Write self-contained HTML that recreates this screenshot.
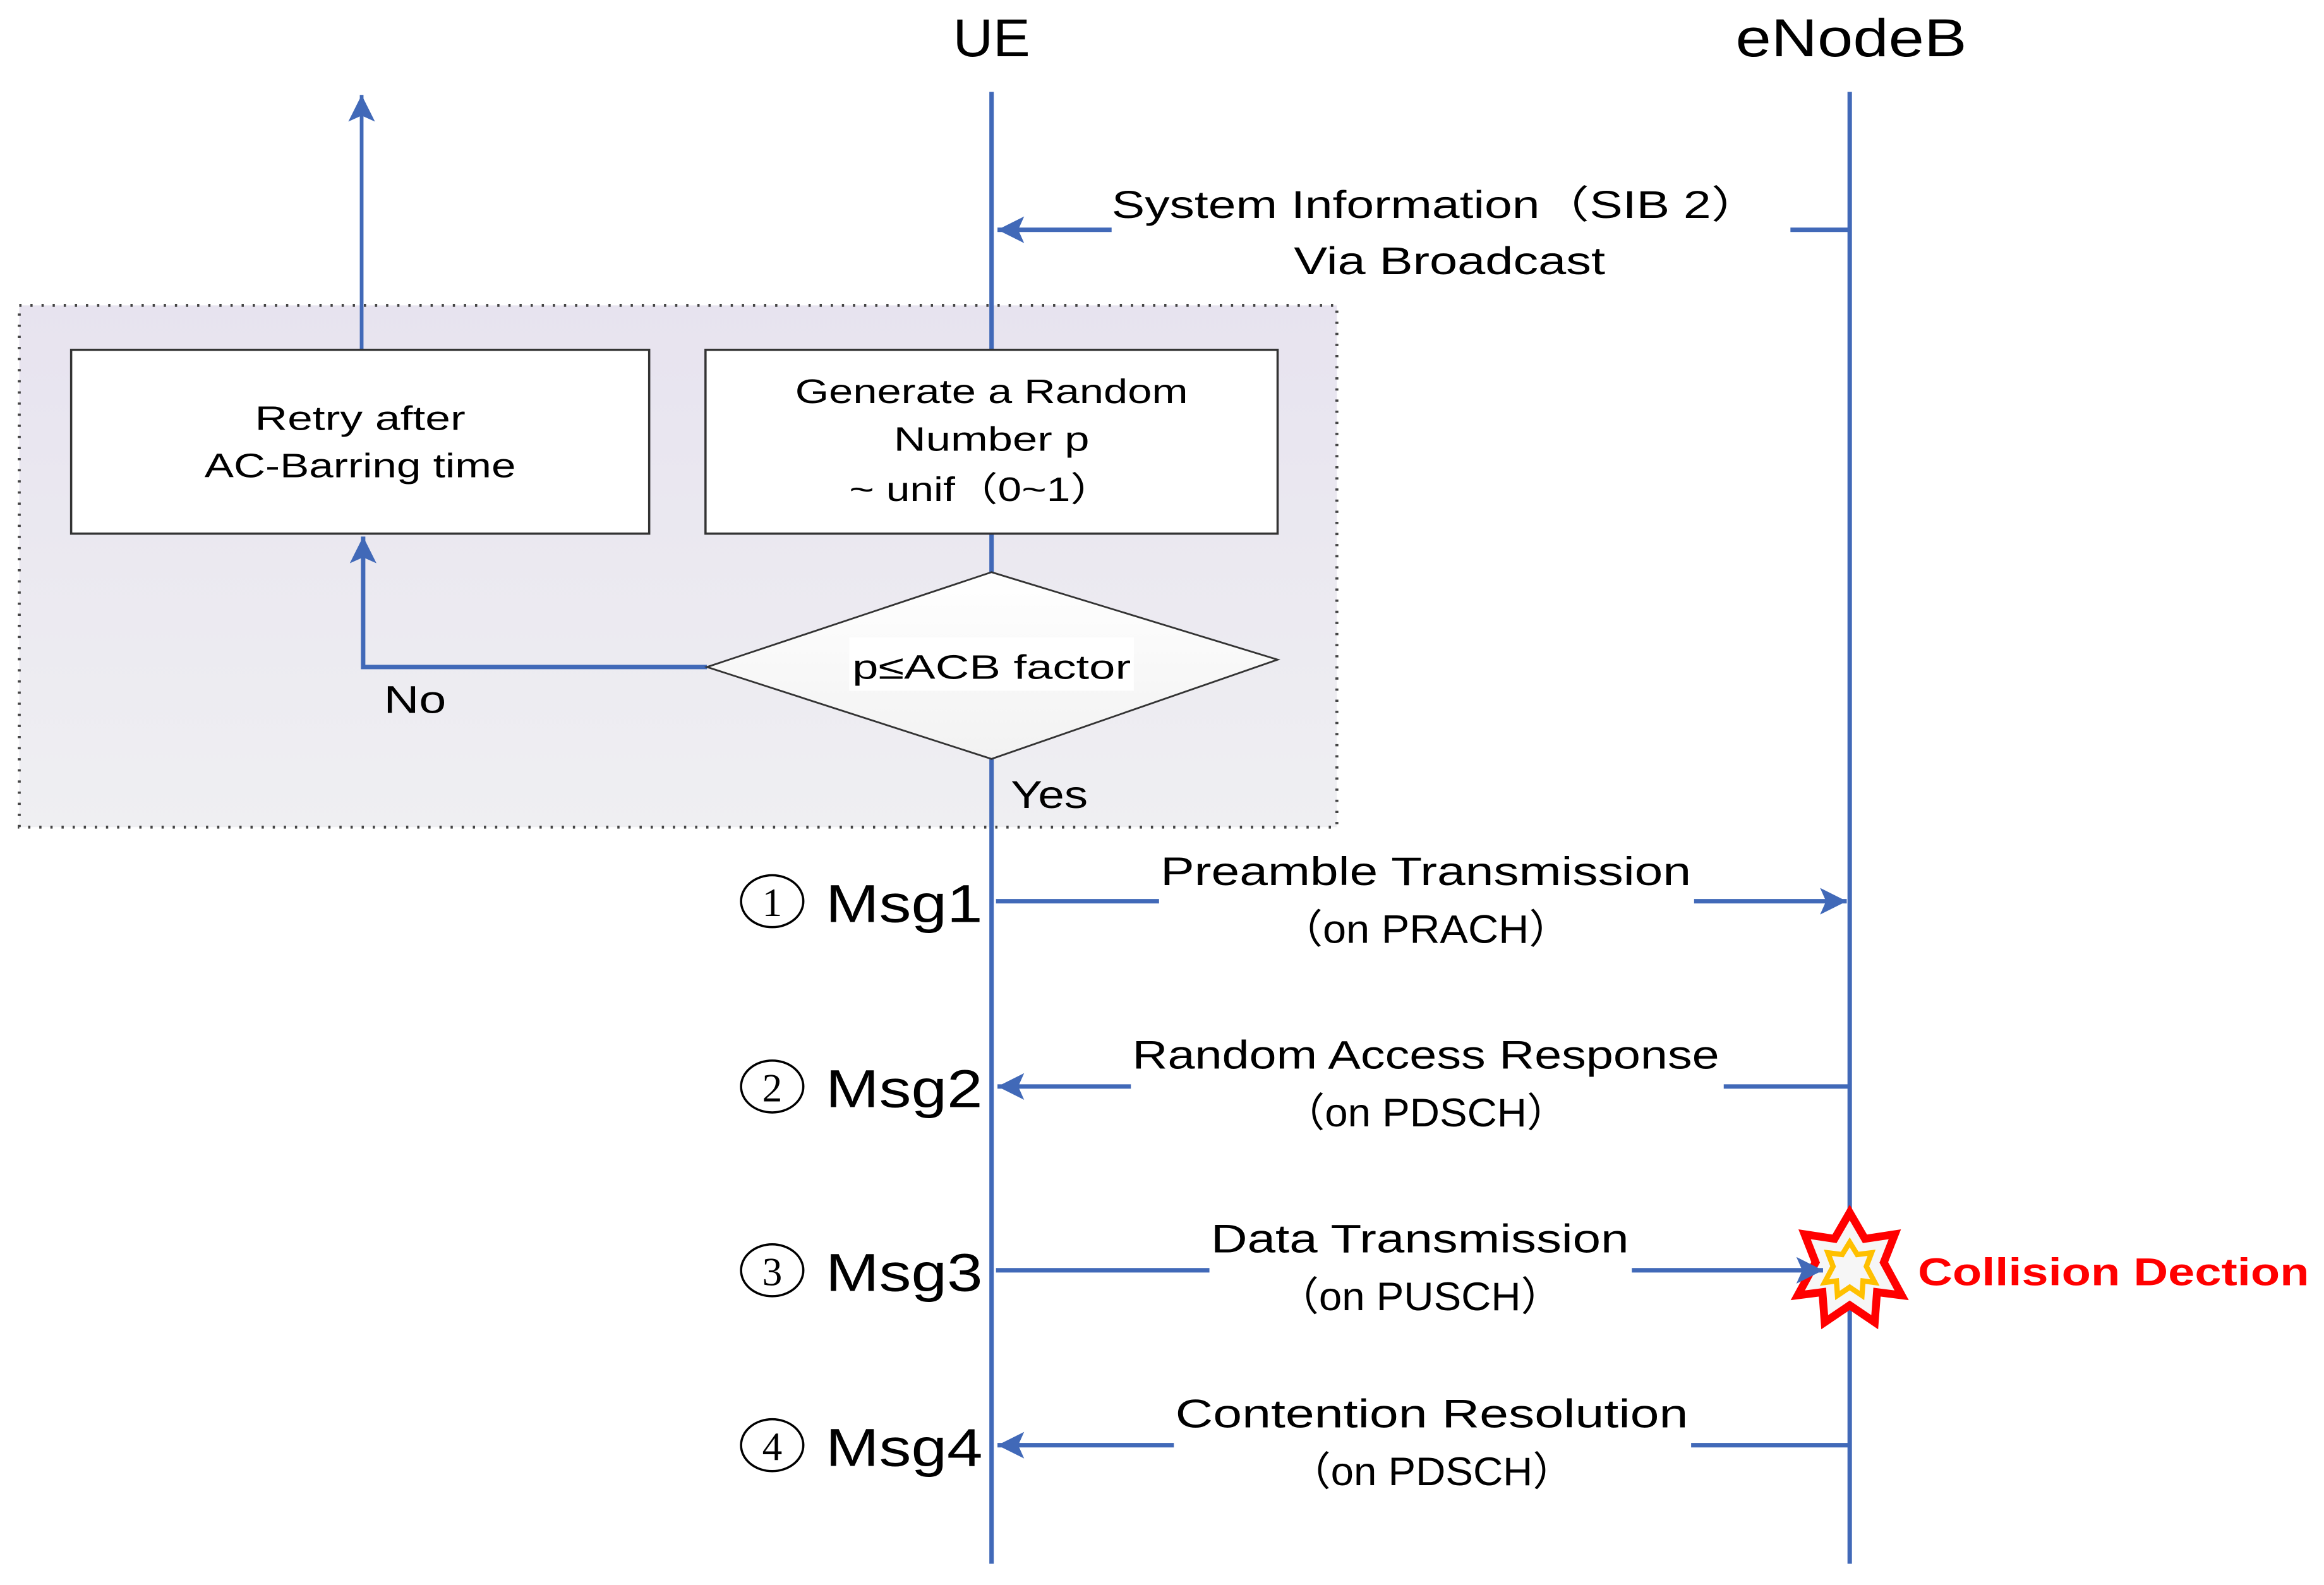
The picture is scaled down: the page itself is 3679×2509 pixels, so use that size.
<!DOCTYPE html>
<html><head><meta charset="utf-8"><style>html,body{margin:0;padding:0;background:#fff}svg{display:block}</style></head>
<body>
<svg width="3679" height="2509" viewBox="0 0 1568 1069.3" xmlns="http://www.w3.org/2000/svg" font-family="'Liberation Sans','Noto Sans CJK SC',sans-serif">
<defs>
<linearGradient id="bg" x1="0" y1="0" x2="0" y2="1"><stop offset="0" stop-color="#e7e3ef"/><stop offset="1" stop-color="#efeff2"/></linearGradient>
<linearGradient id="dg" x1="0" y1="0" x2="0" y2="1"><stop offset="0" stop-color="#ffffff"/><stop offset="1" stop-color="#f2f2f2"/></linearGradient>
<marker id="ar2" markerWidth="20" markerHeight="20" refX="18" refY="10" orient="auto" markerUnits="userSpaceOnUse"><path d="M0,1 L18,10 L0,19 L4,10 Z" fill="#4169b8"/></marker>
</defs>
<rect x="13" y="206" width="889" height="352" fill="url(#bg)" stroke="#444" stroke-width="2" stroke-dasharray="1.5 6"/>
<g stroke="#4169b8" stroke-width="3" fill="none">
<line x1="669" y1="62" x2="669" y2="1055"/>
<line x1="1248" y1="62" x2="1248" y2="1055"/>
<line x1="1248" y1="155" x2="1208" y2="155"/>
<line x1="750" y1="155" x2="673" y2="155" marker-end="url(#ar2)"/>
<line x1="244" y1="236" x2="244" y2="64" stroke-width="2.5" marker-end="url(#ar2)"/>
<polyline points="477,450 245,450 245,362" marker-end="url(#ar2)"/>
<line x1="672" y1="608" x2="782" y2="608"/>
<line x1="1143" y1="608" x2="1246" y2="608" marker-end="url(#ar2)"/>
<line x1="1248" y1="733" x2="1163" y2="733"/>
<line x1="763" y1="733" x2="673" y2="733" marker-end="url(#ar2)"/>
<line x1="672" y1="857" x2="816" y2="857"/>
<line x1="1248" y1="975" x2="1141" y2="975"/>
<line x1="792" y1="975" x2="673" y2="975" marker-end="url(#ar2)"/>
</g>
<rect x="48" y="236" width="390" height="124" fill="#fff" stroke="#333" stroke-width="1.5"/>
<rect x="476" y="236" width="386" height="124" fill="#fff" stroke="#333" stroke-width="1.5"/>
<polygon points="669,386 862,445 669,512 477,450" fill="url(#dg)" stroke="#333" stroke-width="1.2"/>
<rect x="573" y="430" width="192" height="36" fill="#fff"/>
<g transform="translate(1248,857) scale(1.18)">
<polygon points="0,-33 8.7,-18 25.8,-20.6 19.5,-4.5 29.7,14.3 15.6,12.5 14.3,29.7 0,20 -14.3,29.7 -15.6,12.5 -29.7,14.3 -19.5,-4.5 -25.8,-20.6 -8.7,-18" fill="#f6f6f6" stroke="#ff0000" stroke-width="4.5"/>
<polygon points="0,-16 4.3,-9 12.5,-10 9.5,-2.2 14.4,7 7.6,6.1 7,14.4 0,9.7 -7,14.4 -7.6,6.1 -14.4,7 -9.5,-2.2 -12.5,-10 -4.3,-9" fill="#f6f6f6" stroke="#ffc000" stroke-width="3"/>
</g>
<line x1="1101" y1="857" x2="1230" y2="857" stroke="#4169b8" stroke-width="3" marker-end="url(#ar2)"/>
<g fill="#000" text-anchor="middle">
<text x="669" y="38" font-size="36" textLength="52" lengthAdjust="spacingAndGlyphs">UE</text>
<text x="1249" y="38" font-size="36" textLength="156" lengthAdjust="spacingAndGlyphs">eNodeB</text>
<text x="969" y="147" font-size="26" textLength="438" lengthAdjust="spacingAndGlyphs">System Information（SIB 2）</text>
<text x="978" y="185" font-size="26" textLength="210" lengthAdjust="spacingAndGlyphs">Via Broadcast</text>
<text x="243" y="290" font-size="23" textLength="142" lengthAdjust="spacingAndGlyphs">Retry after</text>
<text x="243" y="322" font-size="23" textLength="210" lengthAdjust="spacingAndGlyphs">AC-Barring time</text>
<text x="669" y="272" font-size="23" textLength="265" lengthAdjust="spacingAndGlyphs">Generate a Random</text>
<text x="669" y="304" font-size="23" textLength="132" lengthAdjust="spacingAndGlyphs">Number p</text>
<text x="662" y="338" font-size="23" textLength="178" lengthAdjust="spacingAndGlyphs">~ unif（0~1）</text>
<text x="669" y="458" font-size="23" textLength="188" lengthAdjust="spacingAndGlyphs">p≤ACB factor</text>
<text x="280" y="481" font-size="26" textLength="42" lengthAdjust="spacingAndGlyphs">No</text>
<text x="708" y="545" font-size="26" textLength="52" lengthAdjust="spacingAndGlyphs">Yes</text>
<text x="962" y="597" font-size="27" textLength="358" lengthAdjust="spacingAndGlyphs">Preamble Transmission</text>
<text x="962" y="636" font-size="27" textLength="196" lengthAdjust="spacingAndGlyphs">（on PRACH）</text>
<text x="962" y="721" font-size="27" textLength="396" lengthAdjust="spacingAndGlyphs">Random Access Response</text>
<text x="962" y="760" font-size="27" textLength="192" lengthAdjust="spacingAndGlyphs">（on PDSCH）</text>
<text x="958" y="845" font-size="27" textLength="282" lengthAdjust="spacingAndGlyphs">Data Transmission</text>
<text x="958" y="884" font-size="27" textLength="192" lengthAdjust="spacingAndGlyphs">（on PUSCH）</text>
<text x="966" y="963" font-size="27" textLength="346" lengthAdjust="spacingAndGlyphs">Contention Resolution</text>
<text x="966" y="1002" font-size="27" textLength="192" lengthAdjust="spacingAndGlyphs">（on PDSCH）</text>
</g>
<g fill="#000">
<g fill="none" stroke="#000" stroke-width="1.5">
<ellipse cx="521" cy="608" rx="21" ry="17.5"/><ellipse cx="521" cy="733" rx="21" ry="17.5"/><ellipse cx="521" cy="857" rx="21" ry="17.5"/><ellipse cx="521" cy="975" rx="21" ry="17.5"/>
</g>
<g font-family="'Liberation Serif',serif" font-size="27" text-anchor="middle">
<text x="521" y="618">1</text><text x="521" y="743">2</text><text x="521" y="867">3</text><text x="521" y="985">4</text>
</g>
<g font-size="36">
<text x="557" y="622" textLength="106" lengthAdjust="spacingAndGlyphs">Msg1</text>
<text x="557" y="747" textLength="106" lengthAdjust="spacingAndGlyphs">Msg2</text>
<text x="557" y="871" textLength="106" lengthAdjust="spacingAndGlyphs">Msg3</text>
<text x="557" y="989" textLength="106" lengthAdjust="spacingAndGlyphs">Msg4</text>
</g>
</g>
<text x="1294" y="867" font-size="26" font-weight="bold" fill="#ff0000" textLength="264" lengthAdjust="spacingAndGlyphs">Collision Dection</text>
</svg>
</body></html>
